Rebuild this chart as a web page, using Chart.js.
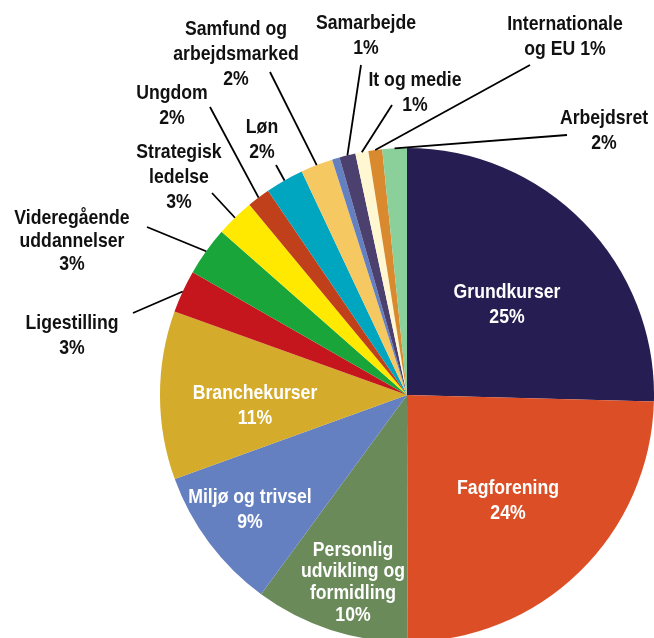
<!DOCTYPE html>
<html>
<head>
<meta charset="utf-8">
<script src="https://cdn.jsdelivr.net/npm/chart.js@4/dist/chart.umd.min.js"></script>
<style>
  html, body { margin: 0; padding: 0; background: #fff; overflow: hidden; }
  #wrap { width: 654px; height: 642px; }
</style>
</head>
<body>
<div id="wrap"><canvas id="grafico" width="654" height="642"></canvas></div>
<script>
const categories = ['Grundkurser', 'Fagforening', 'Personlig udvikling og formidling', 'Miljø og trivsel',
  'Branchekurser', 'Ligestilling', 'Videregående uddannelser', 'Strategisk ledelse', 'Ungdom', 'Løn',
  'Samfund og arbejdsmarked', '', 'Samarbejde', 'It og medie', 'Internationale og EU', 'Arbejdsret'];
const values = [25.4, 24.5, 10.1, 9.4, 11.0, 2.8, 3.2, 2.5, 1.5, 2.5, 2.1, 0.5, 1.05, 0.85, 0.9, 1.6];
const percentLabels = ['25%', '24%', '10%', '9%', '11%', '3%', '3%', '3%', '2%', '2%', '2%', '', '1%', '1%', '1%', '2%'];
const labelLines = [['Grundkurser'], ['Fagforening'], ['Personlig', 'udvikling og', 'formidling'], ['Miljø og trivsel'],
  ['Branchekurser'], ['Ligestilling'], ['Videregående', 'uddannelser'], ['Strategisk', 'ledelse'], ['Ungdom'], ['Løn'],
  ['Samfund og', 'arbejdsmarked'], [], ['Samarbejde'], ['It og medie'], ['Internationale', 'og EU'], ['Arbejdsret']];

const colors = ['#261d52', '#dc4f26', '#6b8a5a', '#6580c0', '#d4ab2a', '#c4161c', '#1aa53a', '#ffe900',
  '#c0401c', '#00a5c0', '#f5c862', '#6480c0', '#4c416e', '#fff7d2', '#d98a2e', '#8bcf9b'];

// where each label goes (cap middle of first line); lx/ly = outer end of leader line
const placement = [
  { x: 507, y: 290 },
  { x: 508, y: 486 },
  { x: 353, y: 548, lh: 21.7 },
  { x: 250, y: 495 },
  { x: 255, y: 391 },
  { x: 72, y: 321, lx: 133, ly: 313 },
  { x: 72, y: 216, lh: 23, lx: 147, ly: 227 },
  { x: 179, y: 150, lx: 212, ly: 193 },
  { x: 172, y: 91, lx: 210, ly: 107 },
  { x: 262, y: 125, lx: 276, ly: 165 },
  { x: 236, y: 27, lx: 270, ly: 72 },
  null,
  { x: 366, y: 21, lx: 361, ly: 65 },
  { x: 415, y: 78, lx: 392, ly: 105 },
  { x: 565, y: 22, lx: 530, ly: 65, inline: true },
  { x: 604, y: 116, lx: 567, ly: 135 }
];

const FONT_SIZE = 21;
const NARROW = 0.84; // the original uses a condensed face, squeeze a normal one

const etiquetas = {
  id: 'etiquetas',
  afterDatasetsDraw(chart) {
    const ctx = chart.ctx;
    const arcs = chart.getDatasetMeta(0).data;
    ctx.save();
    ctx.font = 'bold ' + FONT_SIZE + 'px "Liberation Sans", Arial, sans-serif';
    ctx.textAlign = 'center';
    ctx.textBaseline = 'alphabetic';
    arcs.forEach((arc, i) => {
      const pos = placement[i];
      if (!pos) return;
      const outside = pos.lx !== undefined;
      if (outside) {
        const p = arc.getProps(['x', 'y', 'startAngle', 'endAngle', 'outerRadius'], true);
        const mid = (p.startAngle + p.endAngle) / 2;
        ctx.beginPath();
        ctx.moveTo(p.x + Math.cos(mid) * p.outerRadius, p.y + Math.sin(mid) * p.outerRadius);
        ctx.lineTo(pos.lx, pos.ly);
        ctx.lineWidth = 1.8;
        ctx.strokeStyle = '#000';
        ctx.stroke();
      }
      let lines = labelLines[i].slice();
      if (pos.inline) {
        lines[lines.length - 1] += ' ' + percentLabels[i];
      } else {
        lines.push(percentLabels[i]);
      }
      ctx.fillStyle = outside ? '#111' : '#fff';
      const lh = pos.lh || 25;
      lines.forEach((t, k) => {
        ctx.save();
        ctx.translate(pos.x, pos.y + k * lh + FONT_SIZE * 0.36);
        ctx.scale(NARROW, 1);
        ctx.fillText(t, 0, 0);
        ctx.restore();
      });
    });
    ctx.restore();
  }
};

new Chart(document.getElementById('grafico'), {
  type: 'pie',
  data: {
    labels: categories,
    datasets: [{
      data: values,
      backgroundColor: colors,
      borderWidth: 0
    }]
  },
  options: {
    responsive: false,
    animation: false,
    layout: { padding: { left: 160, right: 0, top: 148, bottom: 0 } },
    plugins: {
      legend: { display: false },
      tooltip: { enabled: false }
    }
  },
  plugins: [etiquetas]
});
</script>
</body>
</html>
